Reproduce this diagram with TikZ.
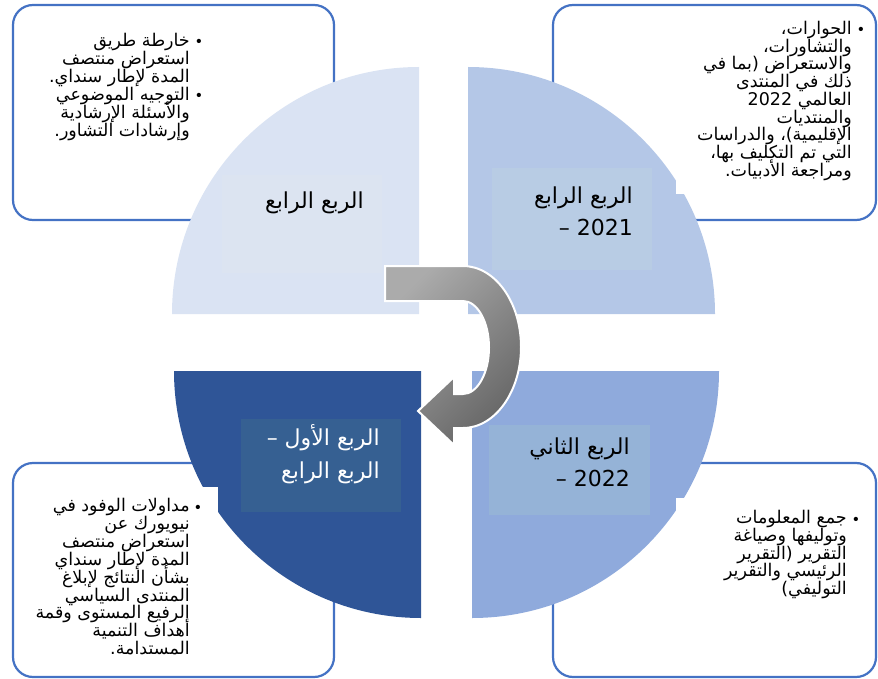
\documentclass[tikz,border=0pt]{standalone}
\usepackage{fontspec}
\newfontfamily\arabicfont[Script=Arabic]{DejaVu Sans}
\TeXXeTstate=1
\newcommand{\artext}[1]{{\arabicfont\beginR #1\endR}}
\definecolor{boxblue}{HTML}{4472C4}
\definecolor{tlfill}{HTML}{DAE3F3}
\definecolor{trfill}{HTML}{B4C7E7}
\definecolor{brfill}{HTML}{8FAADC}
\definecolor{blfill}{HTML}{2F5597}
\definecolor{tllab}{HTML}{DCE4F1}
\definecolor{trlab}{HTML}{B8CCE4}
\definecolor{brlab}{HTML}{95B3D7}
\definecolor{bllab}{HTML}{366092}
\tikzset{
  textbox/.style={draw=boxblue, line width=2.2pt, rounded corners=20pt, fill=white},
  boxline/.style={anchor=base east, inner sep=0pt, font=\fontsize{17.5}{20}\selectfont},
  bulletmark/.style={anchor=base, inner sep=0pt, font=\fontsize{19}{22}\selectfont},
  quarterlabel/.style={anchor=base east, inner sep=0pt, font=\fontsize{22}{26}\selectfont},
  turnarrow/.style={draw=white, line width=2pt, top color=black!33, bottom color=black!60, shading angle=45}
}
\begin{document}
\begin{tikzpicture}[x=1pt,y=-1pt]
	\useasboundingbox (0,0) rectangle (878,679);
	% outer text boxes
	\draw[textbox] (13,5) rectangle (334,220);
	\draw[textbox] (553,5) rectangle (876,220);
	\draw[textbox] (13,463) rectangle (334,677);
	\draw[textbox] (553,463) rectangle (876,677);
	% quarter discs
	\fill[tlfill] (419,314) -- (172,314) arc[start angle=180, end angle=270, radius=247] -- cycle;
	\fill[trfill] (468,314) -- (468,67) arc[start angle=270, end angle=360, radius=247] -- cycle;
	\fill[brfill] (472,371) -- (719,371) arc[start angle=0, end angle=90, radius=247] -- cycle;
	\fill[blfill] (421,371) -- (421,618) arc[start angle=90, end angle=180, radius=247] -- cycle;
	% white text areas
	\fill[white] (676,20) rectangle (860,194);
	\fill[white] (676,498) rectangle (860,660);
	\fill[white] (30,487) rectangle (218,660);
	% label panels
	\fill[tllab] (222,175) rectangle (382,273);
	\fill[trlab] (492,168) rectangle (652,270);
	\fill[brlab] (489,425) rectangle (650,515);
	\fill[bllab] (241,419) rectangle (401,512);
	% quarter labels
	\node[quarterlabel] (tlq) at (364,209) {\artext{الربع الرابع}};
	\node[quarterlabel] (trqa) at (633,204) {\artext{الربع الرابع}};
	\node[quarterlabel] (trqb) at (633,236) {\artext{2021 –}};
	\node[quarterlabel] (brqa) at (630,454) {\artext{الربع الثاني}};
	\node[quarterlabel] (brqb) at (630,486) {\artext{2022 –}};
	\node[quarterlabel, text=white] (blqa) at (380,445) {\artext{الربع الأول –}};
	\node[quarterlabel, text=white] (blqb) at (380,478) {\artext{الربع الرابع}};
	% top left text
	\foreach \t [count=\i] in {{خارطة طريق},{استعراض منتصف},{المدة لإطار سنداي.},{التوجيه الموضوعي},{والأسئلة الإرشادية},{وإرشادات التشاور.}}
		\node[boxline] (tlt\i) at (190,{46.5+18*(\i-1)}) {\artext{\t}};
	\node[bulletmark] (tlb1) at (199,47) {•};
	\node[bulletmark] (tlb2) at (199,101) {•};
	% top right text
	\foreach \t [count=\i] in {{الحوارات،},{والتشاورات،},{والاستعراض (بما  في},{ذلك في المنتدى},{العالمي 2022},{والمنتديات},{الإقليمية)، والدراسات},{التي تم التكليف بها،},{ومراجعة الأدبيات.}}
		\node[boxline] (trt\i) at (852,{34.5+17.75*(\i-1)}) {\artext{\t}};
	\node[bulletmark] (trb1) at (861,35) {•};
	% bottom left text
	\foreach \t [count=\i] in {{مداولات الوفود في},{نيويورك عن},{استعراض منتصف},{المدة لإطار سنداي},{بشأن النتائج لإبلاغ},{المنتدى السياسي},{الرفيع المستوى وقمة},{أهداف التنمية},{المستدامة.}}
		\node[boxline] (blt\i) at (190,{511.5+17.9*(\i-1)}) {\artext{\t}};
	\node[bulletmark] (blb1) at (198,512) {•};
	% bottom right text
	\foreach \t [count=\i] in {{جمع المعلومات},{وتوليفها وصياغة},{التقرير (التقرير},{الرئيسي والتقرير},{التوليفي)}}
		\node[boxline] (brt\i) at (847,{523.5+17.75*(\i-1)}) {\artext{\t}};
	\node[bulletmark] (brb1) at (856,524) {•};
	% turning arrow
	\draw[turnarrow] (385,266) -- (463,266) arc[start angle=-90, end angle=90, x radius=58, y radius=81]
		-- (454,428) -- (454,445) -- (418,411) -- (454,377) -- (454,394) -- (463,394)
		arc[start angle=90, end angle=-90, x radius=26, y radius=46.5] -- (385,301) -- cycle;
\end{tikzpicture}
\end{document}
